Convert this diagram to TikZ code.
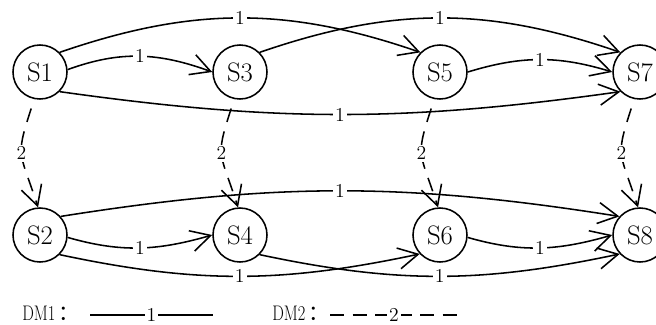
\documentclass[tikz,border=0pt]{standalone}
\usepackage{fontspec}
\usetikzlibrary{arrows.meta}
\newfontfamily\cjk{Noto Sans CJK SC}
\newcommand{\narrowtext}[1]{\scalebox{0.78}[1]{#1}}

\begin{document}
\begin{tikzpicture}[x=0.025cm, y=-0.025cm,
      state/.style={draw, circle, line width=1.1pt, minimum size=1.35cm,
                    inner sep=0pt, font=\fontsize{19}{21}\selectfont},
      arrow/.style={-{Straight Barb[length=14pt,width=15pt]}, line width=1.1pt},
      dmtwo/.style={arrow, dash pattern=on 10pt off 7pt, dash phase=10pt},
      lbl/.style={fill=white, inner sep=1.5pt, font=\fontsize{14}{16}\selectfont},
      legend/.style={anchor=west, inner sep=0pt, font=\fontsize{15}{17}\selectfont}
    ]
    \useasboundingbox (0,0) rectangle (656,324);

    \node[state] (s1) at (40,72)  {S1};
    \node[state] (s3) at (240,72) {S3};
    \node[state] (s5) at (440,72) {S5};
    \node[state] (s7) at (640,72) {S7};
    \node[state] (s2) at (40,235)  {S2};
    \node[state] (s4) at (240,235) {S4};
    \node[state] (s6) at (440,235) {S6};
    \node[state] (s8) at (640,235) {S8};

    % DM1 transitions, top row
    \draw[arrow] (s1.5)   to[out=20,in=160]  node[lbl] {1} (s3.180);
    \draw[arrow] (s1.45)  to[out=19,in=161]  node[lbl] {1} (s5.135);
    \draw[arrow] (s3.45)  to[out=19,in=161]  node[lbl] {1} (s7.135);
    \draw[arrow] (s1.-45) to[out=-8,in=188]  node[lbl] {1} (s7.-135);
    \draw[arrow] (s5.0)   to[out=17,in=163]  node[lbl] {1} (s7.180);

    % DM1 transitions, bottom row
    \draw[arrow] (s2.-5)  to[out=-16,in=196] node[lbl] {1} (s4.180);
    \draw[arrow] (s2.42)  to[out=9,in=171]   node[lbl] {1} (s8.138);
    \draw[arrow] (s2.-45) to[out=-12,in=192] node[lbl] {1} (s6.-137);
    \draw[arrow] (s4.-45) to[out=-12,in=192] node[lbl] {1} (s8.-137);
    \draw[arrow] (s6.-5)  to[out=-16,in=196] node[lbl] {1} (s8.180);

    % DM2 transitions
    \foreach \up/\down in {s1/s2, s3/s4, s5/s6, s7/s8}
      \draw[dmtwo] (\up.258) to[out=-108,in=108,looseness=1.5]
        node[lbl] {2} (\down.94);

    % legend
    \node[legend] (dm1) at (22,313)  {\narrowtext{DM1}\,{\cjk ：}};
    \node[legend] (dm2) at (272,313) {\narrowtext{DM2}\,{\cjk ：}};
    \coordinate (dm1a) at (90,315);
    \coordinate (dm1b) at (213,315);
    \coordinate (dm2a) at (330,315);
    \coordinate (dm2b) at (458,315);
    \draw[line width=1.1pt] (dm1a) -- node[lbl] {1} (dm1b);
    \draw[line width=1.1pt, dash pattern=on 10pt off 6pt] (dm2a) -- node[lbl] {2} (dm2b);
\end{tikzpicture}
\end{document}
